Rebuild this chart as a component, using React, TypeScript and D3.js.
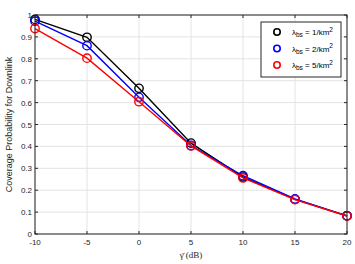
import React from "react";
import * as d3 from "d3";

const xVals = [-10, -5, 0, 5, 10, 15, 20];
const s1 = [0.98, 0.898, 0.665, 0.415, 0.26, 0.158, 0.083];
const s2 = [0.972, 0.86, 0.624, 0.404, 0.266, 0.16, 0.083];
const s5 = [0.938, 0.803, 0.604, 0.402, 0.256, 0.157, 0.082];
const seriesNames = ["1/km", "2/km", "5/km"];
const colors = ["#000000", "#0000ff", "#ff0000"];
const xTicks = [-10, -5, 0, 5, 10, 15, 20];
const yTicks = [0, 0.1, 0.2, 0.3, 0.4, 0.5, 0.6, 0.7, 0.8, 0.9, 1];

export default function App() {
  const W = 355, H = 264;
  const L = 35, R = 347, T = 15, B = 234;
  const x = d3.scaleLinear().domain([-10, 20]).range([L, R]);
  const y = d3.scaleLinear().domain([0, 1]).range([B, T]);
  const series = [s1, s2, s5];
  const line = d3.line<number>().x((_, i) => x(xVals[i])).y((d) => y(d));
  const font = "Liberation Sans, Arial, sans-serif";
  return (
    <svg width={W} height={H} style={{ position: "absolute", left: 0, top: 0, background: "#fff" }}>
      <rect x={0} y={0} width={W} height={H} fill="#fff" />
      {xTicks.map((t) => (
        <line key={"gx" + t} x1={x(t)} x2={x(t)} y1={T} y2={B} stroke="#e3e3e3" strokeWidth={1} />
      ))}
      {yTicks.map((t) => (
        <line key={"gy" + t} x1={L} x2={R} y1={y(t)} y2={y(t)} stroke="#e3e3e3" strokeWidth={1} />
      ))}
      {series.map((s, k) => (
        <g key={"s" + k}>
          <path d={line(s) || ""} fill="none" stroke={colors[k]} strokeWidth={1.4} />
          {s.map((v, i) => (
            <circle key={i} cx={x(xVals[i])} cy={y(v)} r={4.2} fill="none" stroke={colors[k]} strokeWidth={1.4} />
          ))}
        </g>
      ))}
      <rect x={L} y={T} width={R - L} height={B - T} fill="none" stroke="#262626" strokeWidth={1} />
      {xTicks.map((t) => (
        <g key={"tx" + t}>
          <line x1={x(t)} x2={x(t)} y1={B} y2={B - 3} stroke="#262626" />
          <line x1={x(t)} x2={x(t)} y1={T} y2={T + 3} stroke="#262626" />
          <text x={x(t)} y={B + 11} textAnchor="middle" fontFamily={font} fontSize={8} fill="#262626">{t}</text>
        </g>
      ))}
      {yTicks.map((t) => (
        <g key={"ty" + t}>
          <line x1={L} x2={L + 3} y1={y(t)} y2={y(t)} stroke="#262626" />
          <line x1={R} x2={R - 3} y1={y(t)} y2={y(t)} stroke="#262626" />
          <text x={L - 3} y={y(t) + 3} textAnchor="end" fontFamily={font} fontSize={8} fill="#262626">{t}</text>
        </g>
      ))}
      <text x={(L + R) / 2} y={258} textAnchor="middle" fontFamily="Liberation Serif, Times New Roman, serif" fontSize={9} fill="#262626">
        γ̄ (dB)
      </text>
      <text transform={`translate(12, ${(T + B) / 2}) rotate(-90)`} textAnchor="middle" fontFamily={font} fontSize={9} fill="#262626">
        Coverage Probability for Downlink
      </text>
      <g>
        <rect x={261} y={22} width={80} height={55} fill="#fff" stroke="#262626" strokeWidth={1} />
        {seriesNames.map((n, k) => (
          <g key={"lg" + k}>
            <circle cx={277} cy={32 + k * 16.5} r={3.2} fill="none" stroke={colors[k]} strokeWidth={1.6} />
            <text x={292} y={35 + k * 16.5} fontFamily={font} fontSize={8} fill="#000">
              λ<tspan fontSize={6.5} dy={2}>bs</tspan>
              <tspan dy={-2}> = {n}</tspan>
              <tspan fontSize={6.5} dy={-3.5}>2</tspan>
            </text>
          </g>
        ))}
      </g>
    </svg>
  );
}
